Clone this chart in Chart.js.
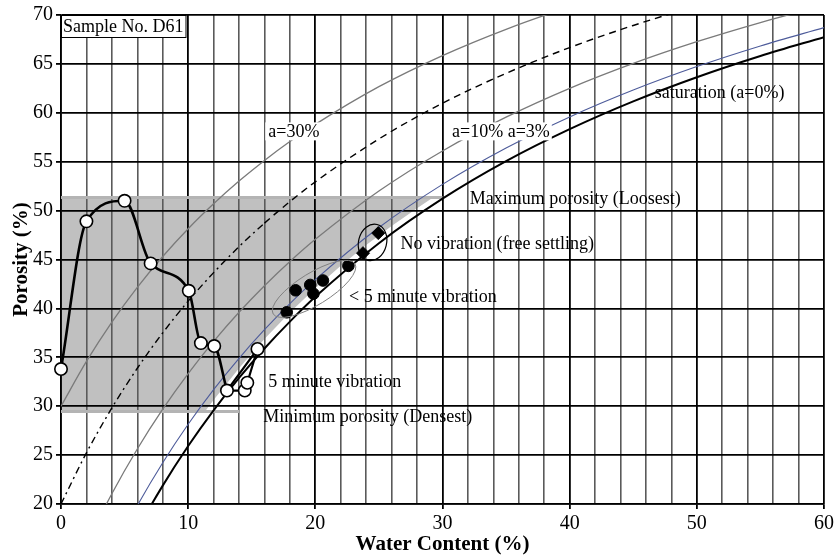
<!DOCTYPE html>
<html>
<head>
<meta charset="utf-8">
<script src="https://cdn.jsdelivr.net/npm/chart.js@4/dist/chart.umd.min.js"></script>
<style>
  html, body { margin: 0; padding: 0; background: #fff; }
  #wrap { width: 837px; height: 557px; }
</style>
</head>
<body>
<div id="wrap"><canvas id="chart"></canvas></div>
<script>
// air-content lines (porosity % against water content %)
const curveWater = [0, 2, 4, 6, 8, 10, 12, 14, 16, 18, 20, 25, 30, 35, 40, 45, 50, 55, 60];
const saturation = [0, 6.54, 12.28, 17.36, 21.88, 25.93, 29.58, 32.89, 35.90, 38.65, 41.18, 46.67, 51.22, 55.06, 58.33, 61.17, 63.64, 65.81, 67.74];
const air3 = [3.0, 9.35, 14.91, 19.83, 24.22, 28.15, 31.69, 34.90, 37.82, 40.49, 42.94, 48.27, 52.68, 56.40, 59.58, 62.33, 64.73, 66.84, 68.71];
const air10 = [10, 15.89, 21.05, 25.62, 29.69, 33.33, 36.62, 39.60, 42.31, 44.79, 47.06, 52.0, 56.10, 59.55, 62.5, 65.05, 67.27, 69.23, 70.97];
const air20 = [20, 25.23, 29.82, 33.88, 37.5, 40.74, 43.66, 46.31, 48.72, 50.92, 52.94, 57.33, 60.98, 64.04, 66.67, 68.93, 70.91, 72.65, 74.19];
const air30 = [30, 34.58, 38.60, 42.15, 45.31, 48.15, 50.70, 53.02, 55.13, 57.06, 58.82, 62.67, 65.85, 68.54, 70.83, 72.82, 74.55, 76.07, 77.42];

// shaded zone between max and min porosity
const zoneWater = [0, 11.35, 12, 14, 16, 18, 20, 22, 24, 26, 28, 29.2, 0];
const zonePorosity = [29.5, 29.5, 30.63, 33.89, 36.86, 39.57, 42.06, 44.35, 46.47, 48.43, 50.25, 51.3, 51.3];
const maxPorWater = [0, 30];
const maxPorosity = [51.35, 51.35];
const minPorWater = [0, 14];
const minPorosity = [29.45, 29.45];

// measured samples
const dryWater = [0, 2.0, 5.0, 7.05, 10.05, 11.0, 12.05, 13.05, 14.45, 14.65, 15.45];
const dryPorosity = [33.8, 48.9, 51.0, 44.6, 41.8, 36.45, 36.15, 31.6, 31.6, 32.4, 35.85];
const vibWater = [17.75, 18.45, 19.6, 19.85, 20.6, 22.6];
const vibPorosity = [39.6, 41.85, 42.4, 41.5, 42.85, 44.35];
const freeWater = [23.75, 24.95];
const freePorosity = [45.65, 47.7];

const xTicks = [0, 10, 20, 30, 40, 50, 60];

function pts(xs, ys) {
    return xs.map((x, i) => ({ x: x, y: ys[i] }));
}

const serif = "'Liberation Serif', 'Times New Roman', serif";

const notes = [
    { text: 'a=30%', x: 16.3, y: 58.1, box: true },
    { text: 'a=10% a=3%', x: 30.75, y: 58.1, box: true },
    { text: 'saturation (a=0%)', x: 46.7, y: 62.1 },
    { text: 'Maximum porosity (Loosest)', x: 32.15, y: 51.3 },
    { text: 'No vibration (free settling)', x: 26.7, y: 46.7 },
    { text: '< 5 minute vibration', x: 22.65, y: 41.2 },
    { text: '5 minute vibration', x: 16.3, y: 32.5 },
    { text: 'Minimum porosity (Densest)', x: 15.9, y: 28.95 }
];

const rings = [
    { x: 19.9, y: 42.0, rx: 48, ry: 16, rot: -0.55, color: '#808080', width: 1 },
    { x: 24.5, y: 46.75, rx: 14, ry: 18.5, rot: 0.25, color: '#000', width: 1.2 }
];

const notesPlugin = {
    id: 'notes',
    afterDraw(chart) {
        const ctx = chart.ctx;
        const xs = chart.scales.x;
        const ys = chart.scales.y;
        const area = chart.chartArea;
        ctx.save();

        rings.forEach(r => {
            ctx.beginPath();
            ctx.ellipse(xs.getPixelForValue(r.x), ys.getPixelForValue(r.y), r.rx, r.ry, r.rot, 0, Math.PI * 2);
            ctx.strokeStyle = r.color;
            ctx.lineWidth = r.width;
            ctx.stroke();
        });

        ctx.font = '18px ' + serif;
        ctx.textBaseline = 'middle';
        ctx.textAlign = 'left';
        notes.forEach(n => {
            const px = xs.getPixelForValue(n.x);
            const py = ys.getPixelForValue(n.y);
            if (n.box) {
                const w = ctx.measureText(n.text).width;
                ctx.fillStyle = '#fff';
                ctx.fillRect(px - 3, py - 9, w + 5, 18);
            }
            ctx.fillStyle = '#000';
            ctx.fillText(n.text, px, py + 1);
        });

        // sample label in the corner
        const label = 'Sample No. D61';
        const lw = ctx.measureText(label).width;
        ctx.fillStyle = '#fff';
        ctx.fillRect(area.left, area.top, lw + 4, 22);
        ctx.strokeStyle = '#000';
        ctx.lineWidth = 1;
        ctx.strokeRect(area.left + 0.5, area.top + 0.5, lw + 4, 22);
        ctx.fillStyle = '#000';
        ctx.fillText(label, area.left + 2, area.top + 12);
        ctx.restore();
    }
};

const canvas = document.getElementById('chart');

new Chart(canvas, {
    type: 'line',
    data: {
        datasets: [
            {
                data: pts(freeWater, freePorosity),
                showLine: false,
                pointStyle: 'rectRot',
                pointRadius: 6.5,
                pointBackgroundColor: '#000',
                pointBorderColor: '#000',
                clip: 10
            },
            {
                data: pts(vibWater, vibPorosity),
                showLine: false,
                pointRadius: 5.8,
                pointBackgroundColor: '#000',
                pointBorderColor: '#000',
                clip: 10
            },
            {
                data: pts(dryWater, dryPorosity),
                showLine: false,
                pointRadius: 6.2,
                pointBorderWidth: 1.6,
                pointBackgroundColor: '#fff',
                pointBorderColor: '#000',
                clip: 10
            },
            {
                data: pts(dryWater.slice(0, 8), dryPorosity.slice(0, 8)),
                borderColor: '#000',
                borderWidth: 2.6,
                cubicInterpolationMode: 'monotone'
            },
            {
                data: pts([7, 8, 9, 10, 7].map(i => dryWater[i]), [7, 8, 9, 10, 7].map(i => dryPorosity[i])),
                borderColor: '#000',
                borderWidth: 2.2,
                tension: 0
            },
            {
                data: pts(curveWater, saturation),
                borderColor: '#000',
                borderWidth: 2,
                cubicInterpolationMode: 'monotone'
            },
            {
                data: pts(curveWater, air3),
                borderColor: '#4d5b9a',
                borderWidth: 1.1,
                cubicInterpolationMode: 'monotone'
            },
            {
                data: pts(curveWater, air10),
                borderColor: '#7a7a7a',
                borderWidth: 1.3,
                cubicInterpolationMode: 'monotone'
            },
            {
                data: pts(curveWater, air20),
                borderColor: '#000',
                borderWidth: 1.4,
                cubicInterpolationMode: 'monotone',
                segment: {
                    borderDash: c => c.p0.parsed.x < 16 ? [7, 4, 2, 4] : [7, 5]
                }
            },
            {
                data: pts(curveWater, air30),
                borderColor: '#7a7a7a',
                borderWidth: 1.3,
                cubicInterpolationMode: 'monotone'
            },
            {
                data: pts(maxPorWater, maxPorosity),
                borderColor: '#b4b4b4',
                borderWidth: 3,
                tension: 0
            },
            {
                data: pts(minPorWater, minPorosity),
                borderColor: '#b4b4b4',
                borderWidth: 3,
                tension: 0
            },
            {
                data: pts(zoneWater, zonePorosity),
                borderWidth: 0,
                borderColor: 'rgba(0,0,0,0)',
                backgroundColor: '#c0c0c0',
                fill: 'shape',
                tension: 0
            }
        ]
    },
    options: {
        responsive: true,
        maintainAspectRatio: false,
        animation: false,
        events: [],
        layout: {
            padding: { top: 15, right: 13, left: 0, bottom: 0 }
        },
        elements: {
            point: { radius: 0 }
        },
        plugins: {
            legend: { display: false },
            tooltip: { enabled: false },
            filler: { drawTime: 'beforeDraw' }
        },
        scales: {
            x: {
                type: 'linear',
                min: 0,
                max: 60,
                afterFit: s => { s.height = 53; },
                ticks: {
                    stepSize: 2,
                    autoSkip: false,
                    maxRotation: 0,
                    color: '#000',
                    padding: 3,
                    font: { family: serif, size: 20 },
                    callback: v => xTicks.includes(v) ? String(v) : ''
                },
                grid: {
                    color: c => c.tick && c.tick.value % 10 === 0 ? '#000' : '#5a5a5a',
                    lineWidth: c => c.tick && c.tick.value % 10 === 0 ? 1.8 : 1.6,
                    tickColor: c => c.tick && c.tick.value % 10 === 0 ? '#000' : 'rgba(0,0,0,0)',
                    tickLength: 5
                },
                border: { color: '#000', width: 1.5 },
                title: {
                    display: true,
                    text: 'Water Content (%)',
                    color: '#000',
                    padding: { top: 0, bottom: 0 },
                    font: { family: serif, size: 21, weight: 'bold' }
                }
            },
            y: {
                min: 20,
                max: 70,
                afterFit: s => { s.width = 61; },
                ticks: {
                    stepSize: 5,
                    color: '#000',
                    padding: 3,
                    font: { family: serif, size: 20 }
                },
                grid: {
                    color: '#000',
                    lineWidth: 1.8,
                    tickLength: 5
                },
                border: { color: '#000', width: 1.5 },
                title: {
                    display: true,
                    text: 'Porosity (%)',
                    color: '#000',
                    padding: { top: 9, bottom: 0 },
                    font: { family: serif, size: 21, weight: 'bold' }
                }
            }
        }
    },
    plugins: [notesPlugin]
});
</script>
</body>
</html>
